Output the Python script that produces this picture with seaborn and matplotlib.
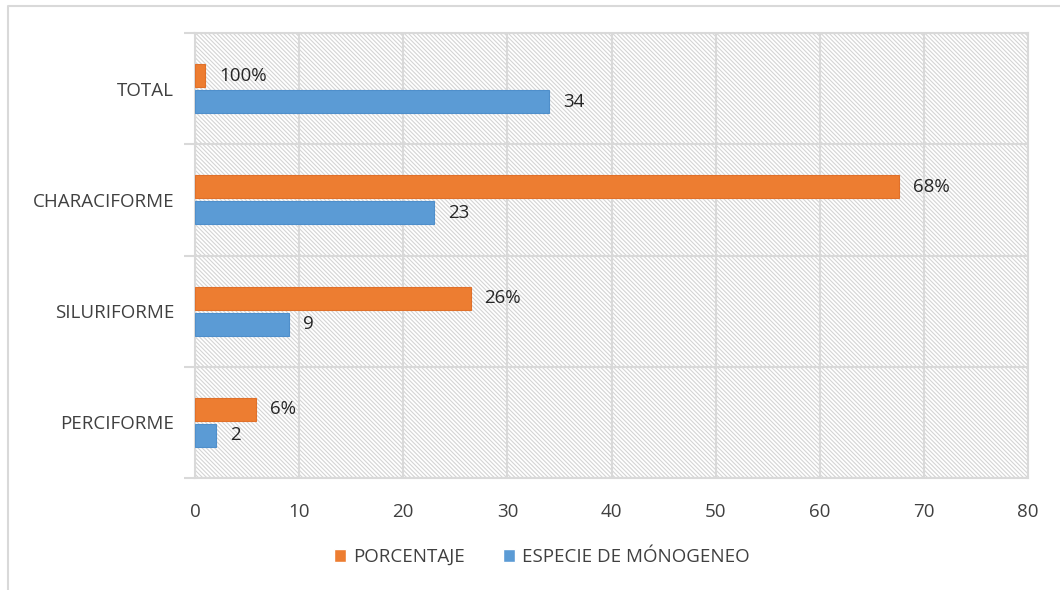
import matplotlib
matplotlib.use('Agg')
import matplotlib.pyplot as plt
from matplotlib.patches import Rectangle
from matplotlib.lines import Line2D
import seaborn as sns
import pandas as pd

# data
categorias = ['TOTAL', 'CHARACIFORME', 'SILURIFORME', 'PERCIFORME']
porcentaje = [1, 67.65, 26.47, 5.88]
etiquetas_pct = ['100%', '68%', '26%', '6%']
especies = [34, 23, 9, 2]
etiquetas_esp = ['34', '23', '9', '2']
series = ['PORCENTAJE', 'ESPECIE DE MÓNOGENEO']
colores = ['#ED7D31', '#5B9BD5']
bordes = ['#E0702A', '#4F8FCB']
xticks = [0, 10, 20, 30, 40, 50, 60, 70, 80]

df = pd.DataFrame({
    'categoria': categorias * 2,
    'valor': porcentaje + especies,
    'serie': [series[0]] * 4 + [series[1]] * 4,
})

sns.set_theme(style='white')
plt.rcParams['font.family'] = ['Open Sans', 'DejaVu Sans']
plt.rcParams['hatch.linewidth'] = 0.8
plt.rcParams['hatch.color'] = '#D4D4D4'

fig = plt.figure(figsize=(10.6, 5.9), dpi=100)
ax = fig.add_axes([195 / 1060, 1 - 478 / 590, (1028 - 195) / 1060, (478 - 33) / 590])

# hatched plot area
ax.add_patch(Rectangle((0, 0), 1, 1, transform=ax.transAxes, facecolor='white',
                       edgecolor='#D4D4D4', hatch=chr(92) * 8, lw=0, zorder=0))

sns.barplot(data=df, x='valor', y='categoria', hue='serie', order=categorias,
            hue_order=series, palette=colores, saturation=1, orient='h',
            width=0.47, gap=0.12, ax=ax, legend=True, zorder=3)

for cont, borde, labs in zip(ax.containers, bordes, [etiquetas_pct, etiquetas_esp]):
    for bar in cont:
        bar.set_edgecolor(borde)
        bar.set_linewidth(0.8)
    ax.bar_label(cont, labels=labs, padding=10, fontsize=13.5, color='#262626')

ax.set_xlim(0, 80)
ax.set_ylim(3.5, -0.5)
ax.set_xticks(xticks)
ax.set_xticklabels([str(t) for t in xticks])
ax.set_yticks(range(len(categorias)), labels=categorias)
ax.set_yticks([-0.5, 0.5, 1.5, 2.5, 3.5], minor=True)
ax.grid(True, axis='x', color='#D9D9D9', lw=1.5, zorder=1)
ax.grid(True, axis='y', which='minor', color='#D9D9D9', lw=1.5, zorder=1)
ax.grid(False, axis='y', which='major')
ax.set_axisbelow(True)
ax.tick_params(axis='y', which='major', length=0, pad=15, labelsize=13.5, labelcolor='#404040')
ax.tick_params(axis='y', which='minor', length=8, width=1.5, color='#D9D9D9', left=True)
ax.tick_params(axis='x', length=0, pad=18, labelsize=13.5, labelcolor='#404040')
for s in ax.spines.values():
    s.set_color('#D9D9D9')
    s.set_linewidth(1.5)
ax.set_xlabel('')
ax.set_ylabel('')

h, l = ax.get_legend_handles_labels()
ax.get_legend().remove()
fig.legend(h, l, loc='center', bbox_to_anchor=(542 / 1060, 1 - 557 / 590), ncol=2,
           frameon=False, fontsize=13.5, handlelength=0.65, handleheight=0.65,
           handletextpad=0.4, columnspacing=2.0, labelcolor='#404040')

# chart frame: only top and left edges are visible
fig.add_artist(Line2D([8 / 1060, 8 / 1060, 1], [0, 1 - 6 / 590, 1 - 6 / 590],
                      transform=fig.transFigure, color='#D9D9D9', lw=1.5))

fig.savefig('out.png', dpi=100)
